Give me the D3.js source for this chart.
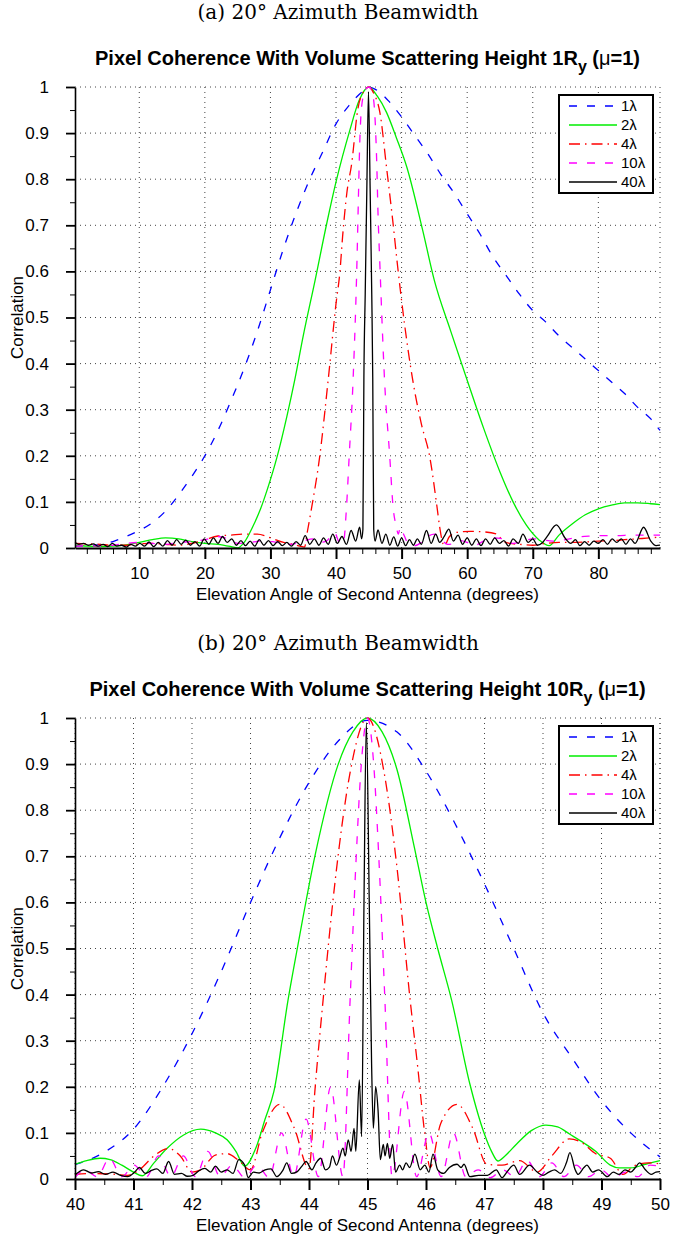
<!DOCTYPE html>
<meta charset="utf-8">
<style>

body { margin: 0; background: #fff; }

.sub {
  font: 20px "DejaVu Serif", serif;
  text-anchor: middle;
}

.ttl {
  font: bold 20px "Liberation Sans", Arial, sans-serif;
  text-anchor: middle;
}

.tick text {
  font: 17px "Liberation Sans", Arial, sans-serif;
  fill: #000;
}

.lab {
  font: 17px "Liberation Sans", Arial, sans-serif;
  text-anchor: middle;
}

.leg {
  font: 15px "Liberation Sans", Arial, sans-serif;
}

.grid line {
  stroke: #444;
  stroke-dasharray: 1,4;
}

.line {
  fill: none;
  stroke-width: 1.3px;
}

</style>
<svg width="673" height="1237"></svg>
<script src="https://cdn.jsdelivr.net/npm/d3@7"></script>
<script>

// legend names and line styles
var seriesNames = ["1λ", "2λ", "4λ", "10λ", "40λ"];
var seriesColors = ["#0000ff", "#00ee00", "#ff0000", "#ff00ff", "#000000"];
var seriesDash = ["8,10", null, "11,5,1.5,5", "8,10", null];

var yTicks = [0, 0.1, 0.2, 0.3, 0.4, 0.5, 0.6, 0.7, 0.8, 0.9, 1];
var yMinor = [0.05, 0.15, 0.25, 0.35, 0.45, 0.55, 0.65, 0.75, 0.85, 0.95];

// ---- panel (a): 1R_y, 0-90 degrees
var topDomain = [0.2, 89.4];
var topTicks = [10, 20, 30, 40, 50, 60, 70, 80];
var topMinor = [2, 4, 6, 8, 12, 14, 16, 18, 22, 24, 26, 28, 32, 34, 36, 38, 42, 44, 46, 48,
                52, 54, 56, 58, 62, 64, 66, 68, 72, 74, 76, 78, 82, 84, 86, 88];

var topBlue = [[0.2,0.004],[3,0.006],[6,0.014],[8,0.025],[10,0.038],[12,0.055],[14,0.08],[16,0.115],
  [18,0.155],[20,0.2],[22,0.255],[24,0.32],[26,0.39],[28,0.47],[30,0.56],[32,0.65],[34,0.73],[36,0.8],
  [38,0.86],[40,0.92],[42,0.96],[44,0.99],[45,1.0],[46,0.995],[48,0.97],[50,0.935],[52,0.895],[54,0.855],
  [56,0.81],[58,0.77],[60,0.725],[62,0.68],[64,0.63],[66,0.59],[68,0.55],[70,0.515],[72,0.49],[74,0.46],
  [76,0.435],[78,0.41],[80,0.385],[82,0.36],[84,0.335],[86,0.305],[88,0.28],[89.4,0.255]];

var topGreen = [[0.2,0.006],[2,0.004],[4,0.003],[6,0.004],[8,0.007],[10,0.012],[12,0.018],[14,0.022],
  [16,0.02],[18,0.014],[20,0.01],[22,0.008],[24,0.003],[25,0.0],[26,0.012],[27.3,0.046],[28.5,0.085],
  [29.5,0.126],[31,0.197],[32.5,0.285],[33.7,0.364],[35,0.46],[36.8,0.58],[38.6,0.705],[40.1,0.8],
  [42.1,0.906],[43.5,0.97],[45,1.0],[46.3,0.98],[47.7,0.945],[49.2,0.89],[50.8,0.826],[53.2,0.69],
  [55,0.58],[57.5,0.47],[60,0.364],[62.5,0.26],[65,0.165],[67,0.1],[69,0.05],[71,0.017],[72.5,0.005],
  [74,0.028],[76,0.052],[78,0.072],[80,0.085],[82,0.093],[84,0.098],[86,0.098],[88,0.096],[89.4,0.094]];

var topRed = [[0.2,0.01],[2,0.009],[4,0.008],[6,0.006],[8,0.006],[10,0.009],[12,0.01],[14,0.008],
  [16,0.006],[18,0.01],[20,0.018],[22,0.026],[24,0.028],[26,0.03],[28,0.03],[30,0.022],[32,0.012],
  [33.5,0.008],[34.5,0.004],[35.2,0.002],[35.6,0.033],[36.3,0.089],[37.5,0.197],[38.8,0.364],[40,0.53],
  [40.6,0.6],[41,0.675],[41.65,0.77],[42.4,0.835],[43.3,0.95],[44.2,0.99],[45,1.0],[45.8,0.985],
  [46.7,0.944],[47.7,0.826],[48.65,0.71],[49.4,0.61],[50.5,0.48],[51.7,0.364],[53,0.27],[54.3,0.197],
  [55.4,0.089],[55.8,0.046],[56.5,0.005],[57.3,0.025],[58.5,0.034],[60.5,0.036],[62.5,0.035],[64.5,0.03],
  [65.5,0.015],[66.5,0.01],[68,0.008],[70,0.006],[72,0.01],[74,0.012],[76,0.012],[78,0.013],[80,0.015],
  [82,0.016],[84,0.018],[86,0.02],[88,0.022],[89.4,0.024]];

var topMagenta = [[0.2,0.004],[2,0.005],[4,0.004],[6,0.006],[8,0.01],[10,0.012],[12,0.01],[14,0.008],
  [16,0.012],[18,0.014],[20,0.018],[22,0.025],[23.5,0.02],[25,0.01],[27,0.012],[29,0.016],[31,0.012],
  [33,0.008],[35,0.015],[36.5,0.02],[37.5,0.012],[38.5,0.015],[39.8,0.033],[40.5,0.012],[41.1,0.01],
  [41.6,0.089],[42,0.197],[42.6,0.364],[43.2,0.625],[43.4,0.75],[43.6,0.87],[43.9,0.957],[44.5,0.995],
  [45,1.0],[45.5,0.99],[45.9,0.944],[46.2,0.84],[46.4,0.727],[46.7,0.61],[47.4,0.364],[48.2,0.197],
  [48.7,0.089],[49.2,0.046],[49.5,0.03],[49.8,0.045],[50.3,0.03],[51,0.01],[52,0.005],[53,0.012],
  [54,0.025],[55,0.03],[56,0.02],[57,0.008],[58,0.01],[59,0.016],[60,0.012],[61,0.005],[62.5,0.015],
  [64,0.022],[65.5,0.02],[67,0.01],[68.5,0.015],[70,0.02],[71.5,0.018],[73,0.015],[75,0.018],[77,0.024],
  [79,0.026],[81,0.027],[83,0.027],[85,0.028],[87,0.028],[89.4,0.028]];

var topBlack = [[0.2,0.012],[0.8,0.008],[1.5,0.01],[2.2,0.006],[3,0.009],[3.7,0.004],[4.5,0.008],
  [5.2,0.003],[5.9,0.01],[6.6,0.004],[7.3,0.006],[8,0.002],[8.7,0.008],[9.4,0.004],[10.1,0.01],
  [10.8,0.004],[11.5,0.013],[12.2,0.003],[12.9,0.012],[13.6,0.004],[14.3,0.016],[15,0.006],[15.7,0.018],
  [16.4,0.008],[17.1,0.017],[17.8,0.006],[18.5,0.014],[19.2,0.004],[19.9,0.02],[20.6,0.008],[21.3,0.022],
  [22,0.01],[22.7,0.025],[23.4,0.012],[24.1,0.02],[24.8,0.006],[25.5,0.016],[26.2,0.005],[26.9,0.015],
  [27.6,0.004],[28.3,0.018],[29,0.006],[29.7,0.016],[30.4,0.005],[31.1,0.014],[31.8,0.005],[32.5,0.012],
  [33.2,0.004],[33.9,0.014],[34.6,0.006],[35.3,0.027],[36,0.008],[36.7,0.02],[37.4,0.006],[38.1,0.022],
  [38.8,0.008],[39.5,0.03],[40.2,0.01],[40.9,0.025],[41.6,0.008],[42.3,0.038],[43,0.015],[43.6,0.045],
  [43.9,0.02],[44.1,0.04],[44.25,0.37],[44.45,0.55],[44.7,0.78],[44.95,0.99],[45.2,0.78],[45.45,0.55],
  [45.6,0.37],[45.75,0.04],[45.95,0.015],[46.4,0.039],[47,0.01],[47.6,0.03],[48.2,0.006],[48.8,0.024],
  [49.4,0.004],[50,0.022],[50.6,0.005],[51.2,0.018],[51.8,0.006],[52.4,0.02],[53,0.008],[53.8,0.038],
  [54.5,0.01],[55.2,0.03],[55.8,0.012],[56.5,0.025],[57.2,0.041],[57.9,0.015],[58.6,0.028],[59.3,0.008],
  [60,0.022],[60.7,0.006],[61.4,0.02],[62.1,0.005],[62.8,0.02],[63.5,0.008],[64.2,0.022],[64.9,0.01],
  [65.6,0.016],[66.3,0.004],[67,0.02],[67.8,0.01],[68.5,0.03],[69.3,0.012],[70,0.02],[70.7,0.006],
  [71.5,0.012],[72.2,0.025],[73.6,0.05],[75,0.02],[75.8,0.01],[76.5,0.018],[77.2,0.005],[77.9,0.014],
  [78.6,0.006],[79.3,0.015],[80,0.01],[80.7,0.018],[81.4,0.008],[82.1,0.02],[82.8,0.012],[83.5,0.02],
  [84.2,0.008],[84.9,0.02],[85.6,0.01],[86.9,0.045],[88,0.015],[88.8,0.005],[89.4,0.006]];

// ---- panel (b): 10R_y, 40-50 degrees
var botDomain = [40, 50];
var botTicks = [40, 41, 42, 43, 44, 45, 46, 47, 48, 49, 50];
var botMinor = [40.5, 41.5, 42.5, 43.5, 44.5, 45.5, 46.5, 47.5, 48.5, 49.5];

var botBlue = [[40,0.031],[40.5,0.058],[41,0.108],[41.5,0.2],[42,0.315],[42.5,0.45],[43,0.6],[43.5,0.74],
  [44,0.86],[44.5,0.95],[45,0.995],[45.5,0.97],[46,0.885],[46.5,0.77],[47,0.64],[47.5,0.5],[48,0.36],
  [48.5,0.262],[49,0.17],[49.5,0.1],[50,0.048]];

var botGreen = [[40,0.032],[40.2,0.04],[40.43,0.045],[40.6,0.042],[40.8,0.03],[41,0.015],[41.15,0.007],
  [41.35,0.035],[41.57,0.066],[41.85,0.095],[42.15,0.108],[42.4,0.1],[42.6,0.085],[42.75,0.06],[42.9,0.028],
  [43.1,0.07],[43.25,0.13],[43.4,0.19],[43.64,0.387],[43.8,0.5],[44.1,0.7],[44.5,0.9],[44.75,0.97],[45,1.0],
  [45.25,0.97],[45.5,0.89],[45.8,0.72],[46,0.6],[46.2,0.5],[46.44,0.387],[46.75,0.206],[47,0.097],
  [47.12,0.06],[47.23,0.039],[47.35,0.05],[47.55,0.076],[47.8,0.105],[48.05,0.117],[48.25,0.113],
  [48.46,0.097],[48.7,0.078],[48.9,0.06],[49.15,0.03],[49.3,0.024],[49.5,0.024],[49.75,0.032],[50,0.04]];

var botRed = [[40,0.01],[40.3,0.012],[40.6,0.011],[40.9,0.008],[41.1,0.02],[41.35,0.05],[41.6,0.066],
  [41.8,0.05],[42,0.015],[42.15,0.02],[42.4,0.052],[42.6,0.055],[42.8,0.04],[43,0.02],[43.2,0.1],[43.5,0.162],
  [43.75,0.11],[44,0.022],[44.1,0.19],[44.24,0.387],[44.45,0.65],[44.7,0.88],[45,1.0],[45.3,0.87],[45.5,0.68],
  [45.73,0.387],[45.86,0.241],[45.98,0.097],[46.07,0.025],[46.25,0.12],[46.53,0.162],[46.8,0.11],
  [47.04,0.032],[47.3,0.03],[47.6,0.04],[47.9,0.015],[48.15,0.05],[48.45,0.087],[48.65,0.08],[48.9,0.055],
  [49.15,0.045],[49.37,0.01],[49.55,0.028],[49.8,0.035],[50,0.033]];

var botMagenta = [[40,0.003],[40.17,0.02],[40.38,0.005],[40.59,0.045],[40.8,0.005],[41.01,0.03],
  [41.22,0.005],[41.43,0.05],[41.64,0.005],[41.85,0.05],[42.06,0.005],[42.27,0.06],[42.48,0.005],
  [42.69,0.03],[42.9,0.003],[43.11,0.03],[43.32,0.003],[43.53,0.1],[43.74,0.005],[43.95,0.13],[44.16,0.005],
  [44.37,0.2],[44.58,0.005],[44.7,0.38],[44.8,0.68],[44.9,0.91],[45,1.0],[45.1,0.91],[45.2,0.68],[45.3,0.38],
  [45.42,0.005],[45.63,0.19],[45.84,0.005],[46.05,0.1],[46.26,0.005],[46.47,0.1],[46.68,0.005],[46.89,0.02],
  [47.1,0.003],[47.31,0.02],[47.52,0.005],[47.73,0.04],[47.94,0.005],[48.15,0.035],[48.36,0.005],
  [48.57,0.03],[48.78,0.005],[48.99,0.02],[49.2,0.003],[49.41,0.015],[49.62,0.005],[49.83,0.03],[50,0.028]];

var botBlack = [[40,0.009],[40.15,0.02],[40.28,0.013],[40.4,0.016],[40.52,0.01],[40.65,0.015],[40.78,0.008],
  [40.9,0.005],[41.02,0.015],[41.1,0.025],[41.2,0.012],[41.3,0.018],[41.4,0.022],[41.5,0.012],[41.6,0.038],
  [41.7,0.01],[41.82,0.012],[41.92,0.006],[42.02,0.008],[42.12,0.018],[42.22,0.023],[42.32,0.015],[42.4,0.028],
  [42.5,0.015],[42.6,0.02],[42.7,0.012],[42.8,0.042],[42.9,0.03],[42.96,0.003],[43.05,0.015],[43.15,0.013],
  [43.25,0.02],[43.35,0.022],[43.45,0.005],[43.55,0.018],[43.62,0.035],[43.7,0.012],[43.8,0.016],[43.88,0.028],
  [43.95,0.038],[44.05,0.02],[44.12,0.035],[44.2,0.045],[44.28,0.02],[44.35,0.026],[44.4,0.05],[44.47,0.03],
  [44.52,0.045],[44.58,0.067],[44.62,0.05],[44.67,0.085],[44.72,0.06],[44.77,0.11],[44.8,0.06],[44.86,0.215],
  [44.9,0.092],[44.94,0.6],[44.98,0.99],[45.03,0.6],[45.07,0.25],[45.1,0.11],[45.14,0.2],[45.18,0.15],
  [45.22,0.042],[45.27,0.075],[45.3,0.05],[45.34,0.077],[45.38,0.045],[45.43,0.075],[45.48,0.015],[45.55,0.03],
  [45.6,0.02],[45.66,0.035],[45.72,0.025],[45.81,0.054],[45.9,0.02],[45.98,0.03],[46.05,0.015],[46.12,0.054],
  [46.2,0.02],[46.3,0.012],[46.4,0.025],[46.53,0.032],[46.6,0.025],[46.65,0.032],[46.75,0.005],[46.9,0.008],
  [47.05,0.008],[47.2,0.02],[47.3,0.003],[47.4,0.018],[47.5,0.03],[47.6,0.01],[47.77,0.03],[47.9,0.015],
  [48,0.008],[48.1,0.015],[48.2,0.02],[48.3,0.012],[48.4,0.035],[48.46,0.057],[48.55,0.02],[48.6,0.01],
  [48.7,0.025],[48.75,0.03],[48.85,0.015],[48.95,0.02],[49.1,0.005],[49.2,0.015],[49.3,0.01],[49.4,0.02],
  [49.5,0.015],[49.58,0.025],[49.65,0.035],[49.75,0.02],[49.85,0.01],[49.93,0.015],[50,0.016]];

var panels = [
  { dy: 0, sub: "(a)  20° Azimuth Beamwidth", height: "1R", domain: topDomain, ticks: topTicks, minor: topMinor,
    series: [topBlue, topGreen, topRed, topMagenta, topBlack] },
  { dy: 631, sub: "(b)  20° Azimuth Beamwidth", height: "10R", domain: botDomain, ticks: botTicks, minor: botMinor,
    series: [botBlue, botGreen, botRed, botMagenta, botBlack] }
];

var svg = d3.select("svg"),
    plotL = 75, plotR = 660, plotT = 87, plotB = 548;

panels.forEach(function(p) {
  var g = svg.append("g").attr("transform", "translate(0," + p.dy + ")");

  var x = d3.scaleLinear().domain(p.domain).range([plotL, plotR]);
  var y = d3.scaleLinear().domain([0, 1]).range([plotB, plotT]);

  g.append("text").attr("class", "sub").attr("x", 338).attr("y", 19).text(p.sub);

  var t = g.append("text").attr("class", "ttl").attr("x", (plotL + plotR) / 2).attr("y", 65);
  t.append("tspan").text("Pixel Coherence With Volume Scattering Height " + p.height);
  t.append("tspan").attr("dy", 7).style("font-size", "16px").text("y");
  t.append("tspan").attr("dy", -7).text(" (");
  t.append("tspan").style("font-weight", "normal").text("μ");
  t.append("tspan").text("=1)");

  // dotted grid, including the top and right borders
  var grid = g.append("g").attr("class", "grid");
  grid.selectAll(".h").data(yTicks.slice(1)).enter().append("line")
      .attr("x1", plotL).attr("x2", plotR)
      .attr("y1", y).attr("y2", y);
  grid.selectAll(".v").data(p.ticks.concat([p.domain[1]])).enter().append("line")
      .attr("x1", x).attr("x2", x)
      .attr("y1", plotT).attr("y2", plotB);

  var line = d3.line()
      .x(function(d) { return x(d[0]); })
      .y(function(d) { return y(d[1]); })
      .curve(d3.curveMonotoneX);

  g.selectAll(".line").data(p.series).enter().append("path")
      .attr("class", "line")
      .attr("d", line)
      .attr("stroke", function(d, i) { return seriesColors[i]; })
      .attr("stroke-width", function(d, i) { return i === 4 ? 1.2 : 1.3; })
      .attr("stroke-dasharray", function(d, i) { return seriesDash[i]; });

  // axes
  var xMaj = g.append("g").attr("transform", "translate(0," + plotB + ")")
      .call(d3.axisBottom(x).tickValues(p.ticks).tickSize(11).tickSizeOuter(0).tickPadding(8)
            .tickFormat(d3.format("d")));
  g.append("g").attr("transform", "translate(0," + plotB + ")")
      .call(d3.axisBottom(x).tickValues(p.minor).tickSize(6).tickFormat(""))
      .select(".domain").remove();
  xMaj.select(".domain").attr("stroke-width", 2.2);
  xMaj.selectAll(".tick line").attr("stroke-width", 2);

  var yMaj = g.append("g").attr("transform", "translate(" + plotL + ",0)")
      .call(d3.axisLeft(y).tickValues(yTicks).tickSize(9).tickSizeOuter(0).tickPadding(17)
            .tickFormat(function(d) { return +d.toFixed(1); }));
  g.append("g").attr("transform", "translate(" + plotL + ",0)")
      .call(d3.axisLeft(y).tickValues(yMinor).tickSize(5).tickFormat(""))
      .select(".domain").remove();
  yMaj.select(".domain").attr("stroke-width", 1.6);
  yMaj.selectAll(".tick line").attr("stroke-width", 1.8);

  g.append("text").attr("class", "lab")
      .attr("transform", "translate(23," + (plotT + plotB) / 2 + ") rotate(-90)")
      .text("Correlation");
  g.append("text").attr("class", "lab")
      .attr("x", (plotL + plotR) / 2).attr("y", 600)
      .text("Elevation Angle of Second Antenna (degrees)");

  // legend
  var lg = g.append("g").attr("transform", "translate(559,95)");
  lg.append("rect").attr("width", 94).attr("height", 98)
      .attr("fill", "#fff").attr("stroke", "#000").attr("stroke-width", 2);
  var item = lg.selectAll(".item").data(seriesNames).enter().append("g")
      .attr("transform", function(d, i) { return "translate(0," + (11 + i * 19) + ")"; });
  item.append("line").attr("x1", 10).attr("x2", 58)
      .attr("stroke", function(d, i) { return seriesColors[i]; })
      .attr("stroke-width", 1.3)
      .attr("stroke-dasharray", function(d, i) { return seriesDash[i]; });
  item.append("text").attr("class", "leg").attr("x", 62).attr("dy", "0.35em").text(function(d) { return d; });
});

</script>
